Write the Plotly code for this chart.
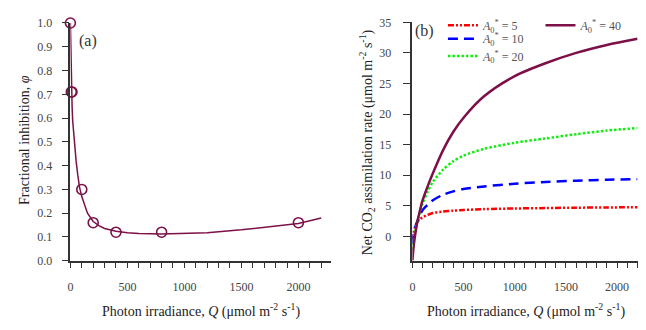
import plotly.graph_objects as go

# ---------------- Panel (a) data ----------------
q_obs = [0, 8, 14, 100, 200, 400, 800, 2000]
phi_obs = [1.0, 0.71, 0.71, 0.30, 0.16, 0.12, 0.12, 0.16]

q_fit = [0, 3, 6, 10, 15, 20, 30, 40, 50, 65, 80, 100, 125, 150, 200, 250, 300,
         400, 500, 600, 800, 1000, 1200, 1500, 1800, 2000, 2200]
phi_fit = [1.0, 0.90, 0.80, 0.72, 0.65, 0.59, 0.52, 0.46, 0.42, 0.36, 0.31, 0.27,
           0.23, 0.20, 0.165, 0.148, 0.136, 0.124, 0.118, 0.115, 0.113, 0.114,
           0.118, 0.130, 0.145, 0.157, 0.180]

# ---------------- Panel (b) data ----------------
q_b = [0, 10, 25, 50, 75, 100, 150, 200, 300, 400, 500, 700, 1000, 1300, 1600, 1900, 2200]
a_5 = [-0.7, 0.5, 1.5, 2.4, 2.8, 3.1, 3.5, 3.8, 4.05, 4.2, 4.3, 4.45, 4.55, 4.62, 4.68, 4.72, 4.75]
a_10 = [-1.2, 0.0, 1.3, 2.5, 3.5, 4.3, 5.2, 5.9, 6.8, 7.35, 7.75, 8.15, 8.6, 8.9, 9.1, 9.25, 9.35]
a_20 = [-2.2, -1.0, 0.6, 2.5, 4.0, 5.4, 7.3, 8.9, 10.9, 12.3, 13.2, 14.3, 15.3, 16.0, 16.7, 17.3, 17.7]
a_40 = [-4.0, -2.0, 0.0, 2.5, 4.3, 5.9, 8.2, 10.3, 14.1, 17.1, 19.4, 22.9, 26.2, 28.3, 30.0, 31.3, 32.3]

series_names = ["<i>A</i><sub>0</sub><sup>*</sup> = 5",
                "<i>A</i><sub>0</sub><sup>*</sup> = 10",
                "<i>A</i><sub>0</sub><sup>*</sup> = 20",
                "<i>A</i><sub>0</sub><sup>*</sup> = 40"]

x_ticks = [0, 500, 1000, 1500, 2000]
ya_ticks = [round(0.1 * i, 1) for i in range(11)]
yb_ticks = [0, 5, 10, 15, 20, 25, 30, 35]

W, H = 646, 330
FONT = "Liberation Serif"
MAROON = "#7d1048"
AXC = "#333333"

fig = go.Figure()

fig.add_trace(go.Scatter(x=q_fit, y=phi_fit, mode="lines",
                         line=dict(color=MAROON, width=1.5),
                         showlegend=False, xaxis="x", yaxis="y", cliponaxis=False))
fig.add_trace(go.Scatter(x=q_obs, y=phi_obs, mode="markers",
                         marker=dict(symbol="circle-open", size=10,
                                     line=dict(color=MAROON, width=1.6), color=MAROON),
                         showlegend=False, xaxis="x", yaxis="y", cliponaxis=False))

styles = [
    (a_5, "#ff0000", "6px,2px,2px,2px,2px,2px", "legend"),
    (a_10, "#0000ff", "10px,6px", "legend2"),
    (a_20, "#11ee11", "2.5px,2px", "legend3"),
    (a_40, MAROON, "solid", "legend4"),
]
for (vals, col, dash, leg), name in zip(styles, series_names):
    fig.add_trace(go.Scatter(x=q_b, y=vals, mode="lines", name=name,
                             line=dict(color=col, width=2.5, dash=dash, shape="spline",
                                       smoothing=0.8),
                             xaxis="x2", yaxis="y2", legend=leg, cliponaxis=True))

tickfont = dict(family=FONT, size=12, color="#444444")
common_x = dict(showline=True, linecolor=AXC, linewidth=1.5, showgrid=False, zeroline=False,
                ticks="outside", ticklen=5, tickcolor=AXC, tickwidth=1.2,
                tickvals=x_ticks, tickfont=tickfont, ticklabelstandoff=9,
                minor=dict(dtick=100, ticks="outside", ticklen=5, tickcolor=AXC, tickwidth=1.2))

ydom_a = [1 - 265 / H, 1 - 16.7 / H]
ydom_b = [1 - 265 / H, 1 - 16 / H]

legfont = dict(family=FONT, size=12, color="#555555")


def leg(xpix, ypix):
    return dict(x=xpix / W, y=1 - ypix / H, xanchor="left", yanchor="top",
                bgcolor="rgba(0,0,0,0)", font=legfont, itemwidth=30)


def ann(text, xpix, ypix, size=14, angle=0, color="#222222"):
    return dict(text=text, x=xpix / W, y=1 - ypix / H, xref="paper", yref="paper",
                xanchor="center", yanchor="middle", showarrow=False, textangle=angle,
                font=dict(family=FONT, size=size, color=color))


fig.update_layout(
    width=W, height=H,
    margin=dict(l=0, r=0, t=0, b=0),
    paper_bgcolor="white", plot_bgcolor="white",
    font=dict(family=FONT, color="#333333"),
    xaxis=dict(domain=[67.7 / W, 330 / W], range=[0, 2290], anchor="y", **common_x),
    yaxis=dict(domain=ydom_a, range=[0, 1.0], anchor="x", showline=True, linecolor=AXC,
               linewidth=1.5, showgrid=False, zeroline=False, ticks="outside", ticklen=7,
               tickcolor=AXC, tickwidth=1.2, tickvals=ya_ticks,
               ticktext=[f"{v:.1f}" for v in ya_ticks], tickfont=tickfont,
               ticklabelstandoff=7),
    xaxis2=dict(domain=[411.3 / W, 637.5 / W], range=[0, 2200], anchor="y2", **common_x),
    yaxis2=dict(domain=ydom_b, range=[-4, 35], anchor="x2", showline=True, linecolor=AXC,
                linewidth=1.5, showgrid=False, zeroline=False, ticks="outside", ticklen=8,
                tickcolor=AXC, tickwidth=1.2, tickvals=yb_ticks, tickfont=tickfont,
                ticklabelstandoff=9),
    legend=leg(442, 4),
    legend2=leg(442, 18),
    legend3=leg(442, 36),
    legend4=leg(540, 4),
    annotations=[
        ann("(a)", 85, 36, size=16, color="#333333"),
        ann("(b)", 423, 25, size=16, color="#333333"),
        ann("Photon irradiance, <i>Q</i> (μmol m<sup>-2</sup> s<sup>-1</sup>)", 199, 317),
        ann("Photon irradiance, <i>Q</i> (μmol m<sup>-2</sup> s<sup>-1</sup>)", 525, 317),
        ann("Fractional inhibition, <i>φ</i>", 21, 139, angle=-90),
        ann("Net CO<sub>2</sub> assimilation rate (μmol m<sup>-2</sup> s<sup>-1</sup>)",
            366, 141, angle=-90),
    ],
)

fig.write_html("out.html")
